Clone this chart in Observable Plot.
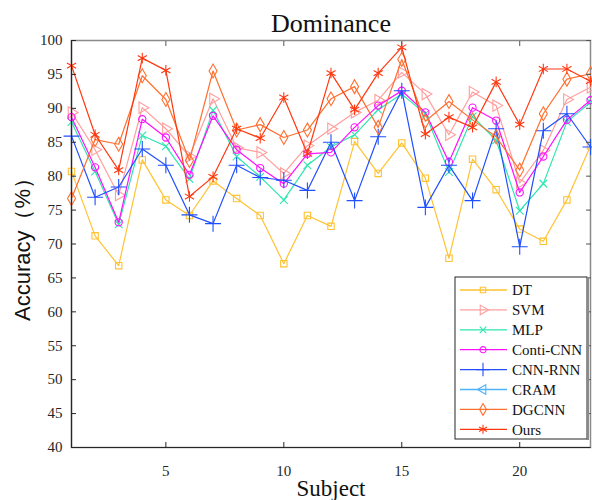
<!DOCTYPE html>
<html>
<head>
<meta charset="utf-8">
<script src="https://cdn.jsdelivr.net/npm/d3@7"></script>
<script src="https://cdn.jsdelivr.net/npm/@observablehq/plot@0.6"></script>
<style>
  html, body { margin: 0; padding: 0; background: #fff; }
  #wrap { position: relative; width: 592px; height: 500px; overflow: hidden; }
  #legend { position: absolute; }
</style>
</head>
<body>
<div id="wrap"></div>
<script>
const subjects = d3.range(1, 24);
const seriesNames = ["DT", "SVM", "MLP", "Conti-CNN", "CNN-RNN", "CRAM", "DGCNN", "Ours"];
const DT       = [80.7, 71.2, 66.8, 82.4, 76.5, 74.2, 79.3, 76.7, 74.2, 67.1, 74.2, 72.6, 85.1, 80.4, 84.9, 79.7, 67.9, 82.5, 78.0, 72.2, 70.4, 76.5, 84.5];
const SVM      = [89.4, 83.9, 77.2, 90.1, 87.0, 82.9, 91.4, 84.2, 83.5, 80.4, 84.5, 87.0, 89.4, 91.2, 95.3, 92.1, 86.1, 92.4, 90.4, 79.0, 83.8, 91.3, 93.1];
const MLP      = [88.0, 80.7, 72.9, 86.0, 84.4, 79.6, 89.7, 82.9, 79.9, 76.5, 81.6, 84.3, 86.1, 89.8, 92.1, 89.2, 80.6, 88.8, 85.3, 74.9, 78.9, 88.0, 90.9];
const ContiCNN = [88.7, 81.3, 73.2, 88.4, 85.7, 80.2, 88.9, 83.9, 81.2, 78.9, 83.3, 83.5, 87.2, 90.4, 92.6, 89.4, 82.1, 90.1, 88.2, 77.6, 82.9, 88.3, 91.2];
const CNNRNN   = [85.9, 76.9, 78.4, 84.0, 81.6, 74.3, 73.0, 81.6, 79.8, 79.4, 77.9, 85.0, 76.4, 85.8, 92.6, 75.4, 81.6, 76.4, 87.0, 69.6, 86.7, 89.2, 84.3];
const CRAM     = subjects.map(() => null);
const DGCNN    = [76.7, 85.4, 84.7, 94.8, 91.3, 82.3, 95.5, 86.8, 87.6, 85.7, 86.8, 91.4, 93.2, 87.2, 97.2, 88.1, 91.0, 88.3, 85.8, 80.9, 89.2, 94.3, 95.1];
const Ours     = [96.3, 86.1, 80.9, 97.4, 95.6, 77.0, 79.9, 87.0, 85.6, 91.6, 83.3, 95.2, 89.8, 95.2, 99.0, 86.2, 88.7, 87.2, 93.9, 87.6, 95.8, 95.8, 94.0];
const xTicks = [5, 10, 15, 20];
const yTicks = [40, 45, 50, 55, 60, 65, 70, 75, 80, 85, 90, 95, 100];

const values = [DT, SVM, MLP, ContiCNN, CNNRNN, CRAM, DGCNN, Ours];
const colors = ["#FFC232", "#FF9E9E", "#2FE6B0", "#FF10FF", "#1F4FFF", "#4DB3FF", "#FF6F2E", "#FF3810"];
const symbols = ["square", "triangle", "times", "circle", "plus", "triangle", "diamond", "asterisk"];
const rotations = [0, 90, 0, 0, 0, -90, 0, 0];
const radii = [3.6, 4.2, 3.6, 3.6, 5.2, 4.2, 4.2, 5.0];

const rows = [];
seriesNames.forEach((name, i) => {
  subjects.forEach((s, j) => {
    rows.push({series: name, idx: i, subject: s, acc: values[i][j]});
  });
});

const FONT = "Liberation Serif, Times New Roman, serif";
const W = 592, H = 500;
const mL = 71, mR = 2, mT = 40, mB = 53;

const marks = [];
seriesNames.forEach((name, i) => {
  const d = rows.filter(r => r.idx === i && r.acc != null);
  marks.push(Plot.line(d, {x: "subject", y: "acc", stroke: colors[i], strokeWidth: 1.2}));
  marks.push(Plot.dot(d, {x: "subject", y: "acc", stroke: colors[i], fill: "none",
    symbol: symbols[i], r: radii[i], rotate: rotations[i], strokeWidth: 1.1}));
});

const plot = Plot.plot({
  width: W, height: H,
  marginLeft: mL, marginRight: mR, marginTop: mT, marginBottom: mB,
  style: {fontFamily: FONT, fontSize: "15px", color: "#262626", background: "#fff", overflow: "visible"},
  x: {domain: [1, 23]},
  y: {domain: [40, 100]},
  marks: [
    Plot.frame({stroke: "#8a8a8a", strokeWidth: 1.5}),
    ...marks,
    Plot.axisX(xTicks, {anchor: "bottom", tickSize: -5, text: null, label: null, stroke: "#262626"}),
    Plot.axisX(xTicks, {anchor: "top", tickSize: -5, text: null, label: null, stroke: "#555"}),
    Plot.axisY(yTicks, {anchor: "left", tickSize: -5, text: null, label: null, stroke: "#262626"}),
    Plot.axisY(yTicks, {anchor: "right", tickSize: -5, text: null, label: null, stroke: "#555"}),
    Plot.axisX(xTicks, {anchor: "bottom", tickSize: 0, tickPadding: 18, label: null, fontSize: 15, fill: "#262626"}),
    Plot.axisY(yTicks, {anchor: "left", tickSize: 0, tickPadding: 9, label: null, fontSize: 15, fill: "#262626"}),
    Plot.ruleX([1], {stroke: "#262626", strokeWidth: 1.2}),
    Plot.ruleY([40], {stroke: "#262626", strokeWidth: 1.2}),
    Plot.text(["Dominance"], {frameAnchor: "top", lineAnchor: "bottom", dy: -9, fontSize: 26, fill: "#111"}),
    Plot.text(["Subject"], {frameAnchor: "bottom", lineAnchor: "bottom", dy: 48, fontSize: 23, fill: "#111"}),
    Plot.text(["Accuracy（%）"], {frameAnchor: "left", textAnchor: "middle", rotate: -90, dx: -49, fontSize: 22, fill: "#111", fontFamily: "Liberation Sans, Arial, sans-serif"})
  ]
});
document.getElementById("wrap").appendChild(plot);

// Legend (inside plot, bottom-right)
const lg = d3.select("#wrap").append("svg").attr("id", "legend")
  .attr("width", 136).attr("height", 166)
  .style("left", "454px").style("top", "276px");
lg.append("rect").attr("x", 1).attr("y", 1).attr("width", 132).attr("height", 162)
  .attr("fill", "#fff").attr("stroke", "#262626").attr("stroke-width", 1);
lg.append("line").attr("x1", 134).attr("x2", 134).attr("y1", 1).attr("y2", 164).attr("stroke", "#8a8a8a").attr("stroke-width", 2);
const symMap = {square: d3.symbolSquare, triangle: d3.symbolTriangle, times: d3.symbolTimes, circle: d3.symbolCircle,
  plus: d3.symbolPlus, diamond: d3.symbolDiamond, asterisk: d3.symbolAsterisk};
seriesNames.forEach((name, i) => {
  const y = 14 + i * 19.9;
  const g = lg.append("g");
  g.append("line").attr("x1", 6).attr("x2", 53).attr("y1", y).attr("y2", y)
    .attr("stroke", colors[i]).attr("stroke-width", 1.3);
  const rr = radii[i] * 0.85;
  g.append("path").attr("d", d3.symbol(symMap[symbols[i]], rr * rr * Math.PI)())
    .attr("transform", `translate(29,${y}) rotate(${rotations[i]})`)
    .attr("fill", "none").attr("stroke", colors[i]).attr("stroke-width", 1.1);
  g.append("text").attr("x", 58).attr("y", y).attr("dy", "0.35em")
    .attr("font-family", FONT).attr("font-size", 15).attr("fill", "#111").text(name);
});
</script>
</body>
</html>
